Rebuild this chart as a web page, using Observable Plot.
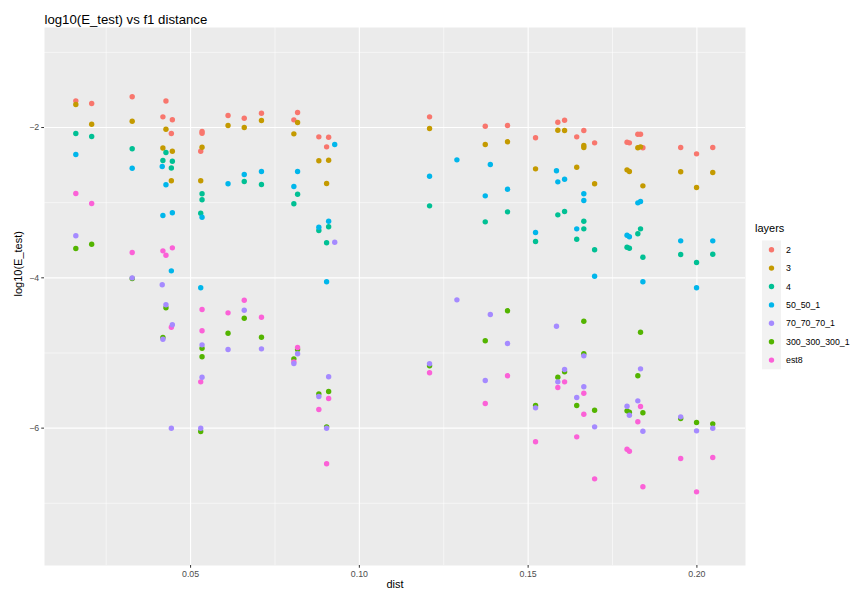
<!DOCTYPE html>
<html><head><meta charset="utf-8">
<script src="https://cdn.jsdelivr.net/npm/d3@7"></script>
<script src="https://cdn.jsdelivr.net/npm/@observablehq/plot@0.6"></script>
<style>
body{margin:0;background:#fff;font-family:"Liberation Sans",Arial,Helvetica,sans-serif;}
#wrap{position:relative;width:858px;height:596px;}
#wrap svg{display:block;}
#legend{position:absolute;left:0;top:0;}
</style></head><body><div id="wrap"></div>
<script>
const titleText = "log10(E_test) vs f1 distance";
const xLabel = "dist";
const yLabel = "log10(E_test)";
const legendTitle = "layers";
const layerNames = ["2","3","4","50_50_1","70_70_70_1","300_300_300_1","est8"];
const layerColors = ["#F8766D","#C49A00","#00C094","#00B6EB","#A58AFF","#53B400","#FB61D7"];
const majorX = [0.05,0.10,0.15,0.20];
const minorX = [0.025,0.075,0.125,0.175];
const majorY = [-2,-4,-6];
const minorY = [-1,-3,-5,-7];

// [dist, log10(E_test)]
const layer_2 = [[0.0160,-1.645],[0.0207,-1.681],[0.0327,-1.591],[0.0418,-1.858],[0.0427,-1.647],[0.0446,-1.896],[0.0443,-2.080],[0.0534,-2.053],[0.0534,-2.076],[0.0530,-2.315],[0.0611,-1.840],[0.0659,-1.876],[0.0710,-1.810],[0.0817,-1.800],[0.0806,-1.898],[0.0880,-2.124],[0.0909,-2.129],[0.0903,-2.257],[0.1208,-1.858],[0.1373,-1.983],[0.1439,-1.973],[0.1522,-2.137],[0.1588,-1.929],[0.1608,-1.903],[0.1644,-2.124],[0.1665,-2.040],[0.1697,-2.204],[0.1793,-2.196],[0.1800,-2.204],[0.1825,-2.089],[0.1833,-2.089],[0.1840,-2.270],[0.1952,-2.266],[0.1999,-2.350],[0.2047,-2.266]];
const layer_3 = [[0.0160,-1.694],[0.0207,-1.956],[0.0327,-1.916],[0.0427,-2.023],[0.0418,-2.273],[0.0446,-2.315],[0.0443,-2.709],[0.0534,-2.262],[0.0530,-2.709],[0.0611,-1.973],[0.0659,-2.000],[0.0710,-1.907],[0.0817,-1.933],[0.0806,-2.084],[0.0880,-2.443],[0.0909,-2.435],[0.0903,-2.745],[0.1208,-2.013],[0.1373,-2.226],[0.1439,-2.190],[0.1522,-2.550],[0.1588,-2.036],[0.1608,-2.040],[0.1665,-2.240],[0.1665,-2.266],[0.1644,-2.528],[0.1697,-2.749],[0.1825,-2.270],[0.1833,-2.257],[0.1793,-2.563],[0.1800,-2.585],[0.1840,-2.776],[0.1952,-2.589],[0.1999,-2.798],[0.2047,-2.599]];
const layer_4 = [[0.0160,-2.080],[0.0207,-2.120],[0.0327,-2.283],[0.0427,-2.333],[0.0418,-2.439],[0.0446,-2.448],[0.0443,-2.539],[0.0534,-2.882],[0.0534,-2.962],[0.0530,-3.140],[0.0659,-2.719],[0.0710,-2.758],[0.0817,-2.888],[0.0806,-3.015],[0.0909,-3.321],[0.0880,-3.371],[0.0903,-3.534],[0.1208,-3.042],[0.1373,-3.255],[0.1439,-3.122],[0.1522,-3.517],[0.1588,-3.162],[0.1608,-3.118],[0.1665,-3.247],[0.1665,-3.348],[0.1644,-3.486],[0.1697,-3.627],[0.1833,-3.348],[0.1825,-3.414],[0.1793,-3.593],[0.1800,-3.606],[0.1840,-3.726],[0.1952,-3.690],[0.1999,-3.796],[0.2047,-3.686]];
const layer_50_50_1 = [[0.0160,-2.359],[0.0327,-2.542],[0.0416,-2.519],[0.0427,-2.762],[0.0418,-3.171],[0.0446,-3.134],[0.0443,-3.907],[0.0534,-3.194],[0.0530,-4.133],[0.0611,-2.749],[0.0659,-2.625],[0.0710,-2.585],[0.0817,-2.585],[0.0806,-2.785],[0.0927,-2.226],[0.0909,-3.247],[0.0880,-3.327],[0.0903,-4.053],[0.1208,-2.648],[0.1289,-2.430],[0.1388,-2.492],[0.1373,-2.909],[0.1439,-2.821],[0.1522,-3.397],[0.1584,-2.576],[0.1608,-2.688],[0.1588,-2.723],[0.1665,-2.882],[0.1665,-2.971],[0.1644,-3.348],[0.1697,-3.979],[0.1833,-2.985],[0.1825,-3.002],[0.1793,-3.433],[0.1800,-3.454],[0.1840,-4.053],[0.1952,-3.508],[0.1999,-4.133],[0.2047,-3.508]];
const layer_70_70_70_1 = [[0.0160,-3.441],[0.0327,-4.000],[0.0416,-4.093],[0.0427,-4.359],[0.0446,-4.625],[0.0418,-4.817],[0.0443,-6.001],[0.0534,-4.892],[0.0534,-5.323],[0.0530,-6.001],[0.0611,-4.954],[0.0659,-4.431],[0.0710,-4.945],[0.0817,-5.011],[0.0806,-5.140],[0.0927,-3.526],[0.0909,-5.317],[0.0880,-5.580],[0.0903,-6.001],[0.1208,-5.144],[0.1289,-4.293],[0.1388,-4.488],[0.1373,-5.367],[0.1439,-4.874],[0.1522,-5.730],[0.1584,-4.644],[0.1588,-5.384],[0.1608,-5.220],[0.1665,-5.038],[0.1665,-5.450],[0.1644,-5.593],[0.1697,-5.983],[0.1833,-5.211],[0.1825,-5.637],[0.1793,-5.709],[0.1800,-5.828],[0.1840,-6.041],[0.1952,-5.850],[0.1999,-6.036],[0.2047,-6.001]];
const layer_300_300_300_1 = [[0.0160,-3.610],[0.0207,-3.553],[0.0327,-4.009],[0.0427,-4.399],[0.0418,-4.794],[0.0534,-4.937],[0.0534,-5.051],[0.0530,-6.045],[0.0611,-4.737],[0.0659,-4.538],[0.0710,-4.790],[0.0817,-4.954],[0.0806,-5.078],[0.0880,-5.544],[0.0909,-5.513],[0.0903,-5.983],[0.1208,-5.171],[0.1373,-4.838],[0.1439,-4.439],[0.1522,-5.699],[0.1588,-5.323],[0.1608,-5.251],[0.1665,-4.577],[0.1665,-5.011],[0.1644,-5.699],[0.1697,-5.762],[0.1833,-4.724],[0.1825,-5.304],[0.1793,-5.770],[0.1800,-5.788],[0.1840,-5.796],[0.1952,-5.872],[0.1999,-5.925],[0.2047,-5.943]];
const layer_est8 = [[0.0160,-2.878],[0.0207,-3.011],[0.0327,-3.663],[0.0446,-3.601],[0.0418,-3.641],[0.0427,-3.699],[0.0443,-4.657],[0.0534,-4.422],[0.0534,-4.705],[0.0530,-5.384],[0.0611,-4.466],[0.0659,-4.298],[0.0710,-4.524],[0.0817,-4.927],[0.0806,-5.118],[0.0909,-5.606],[0.0880,-5.752],[0.0903,-6.475],[0.1208,-5.264],[0.1373,-5.673],[0.1439,-5.304],[0.1522,-6.182],[0.1588,-5.460],[0.1608,-5.384],[0.1665,-5.536],[0.1665,-5.815],[0.1644,-6.116],[0.1697,-6.675],[0.1833,-5.713],[0.1825,-5.916],[0.1793,-6.281],[0.1800,-6.307],[0.1840,-6.781],[0.1952,-6.405],[0.1999,-6.848],[0.2047,-6.391]];

const seriesByName = {
  "2": layer_2, "3": layer_3, "4": layer_4, "50_50_1": layer_50_50_1,
  "70_70_70_1": layer_70_70_70_1, "300_300_300_1": layer_300_300_300_1, "est8": layer_est8
};
const drawOrder = ["2","3","4","50_50_1","300_300_300_1","est8","70_70_70_1"];
const rows = drawOrder.flatMap(name => seriesByName[name].map(([dist, val]) => ({dist, val, layer: name})));

const font = '"Liberation Sans", Arial, Helvetica, sans-serif';
const chart = Plot.plot({
  width: 858, height: 596,
  marginLeft: 44, marginRight: 113, marginTop: 27, marginBottom: 31,
  style: {fontFamily: font, background: "white", overflow: "visible"},
  x: {domain: [0.00672, 0.2144]},
  y: {domain: [-7.828, -0.669]},
  color: {domain: layerNames, range: layerColors},
  marks: [
    Plot.frame({fill: "#EBEBEB", stroke: "none"}),
    Plot.gridX(minorX, {stroke: "white", strokeOpacity: 1, strokeWidth: 0.55}),
    Plot.gridY(minorY, {stroke: "white", strokeOpacity: 1, strokeWidth: 0.55}),
    Plot.gridX(majorX, {stroke: "white", strokeOpacity: 1, strokeWidth: 1.1}),
    Plot.gridY(majorY, {stroke: "white", strokeOpacity: 1, strokeWidth: 1.1}),
    Plot.axisX(majorX, {tickSize: 2.75, tickPadding: 2.5, fontSize: 8.8, stroke: "#333333", fill: "#4D4D4D", label: null, tickFormat: d3.format(".2f")}),
    Plot.axisY(majorY, {tickSize: 2.75, tickPadding: 2.5, fontSize: 8.8, stroke: "#333333", fill: "#4D4D4D", label: null, tickFormat: d => (d < 0 ? "\u2212" : "") + Math.abs(d)}),
    Plot.dot(rows, {x: "dist", y: "val", fill: "layer", r: 2.7, stroke: "none"}),
    Plot.text([yLabel], {frameAnchor: "left", dx: -26, rotate: -90, text: d => d, fontSize: 11, fill: "black"}),
    Plot.text([xLabel], {frameAnchor: "bottom", dy: 22, text: d => d, fontSize: 11, fill: "black"}),
    Plot.text([titleText], {frameAnchor: "top-left", dy: -13, textAnchor: "start", text: d => d, fontSize: 13.2, fill: "black"})
  ]
});
const wrap = document.getElementById("wrap");
wrap.appendChild(chart);

// legend
const lg = d3.select(wrap).append("svg").attr("id", "legend")
  .attr("width", 858).attr("height", 596).style("pointer-events", "none")
  .style("font-family", font);
lg.append("text").attr("x", 755).attr("y", 232).attr("font-size", 11).attr("fill", "black").text(legendTitle);
const keyTop = 240.5, keyH = 18.4;
lg.append("rect").attr("x", 762).attr("y", keyTop).attr("width", 19).attr("height", keyH * layerNames.length)
  .attr("fill", "#F2F2F2");
layerNames.forEach((name, i) => {
  const cy = keyTop + keyH * (i + 0.5);
  lg.append("circle").attr("cx", 771.5).attr("cy", cy).attr("r", 2.7).attr("fill", layerColors[i]);
  lg.append("text").attr("x", 786).attr("y", cy + 3.1).attr("font-size", 8.8).attr("fill", "black").text(name);
});
</script></body></html>
